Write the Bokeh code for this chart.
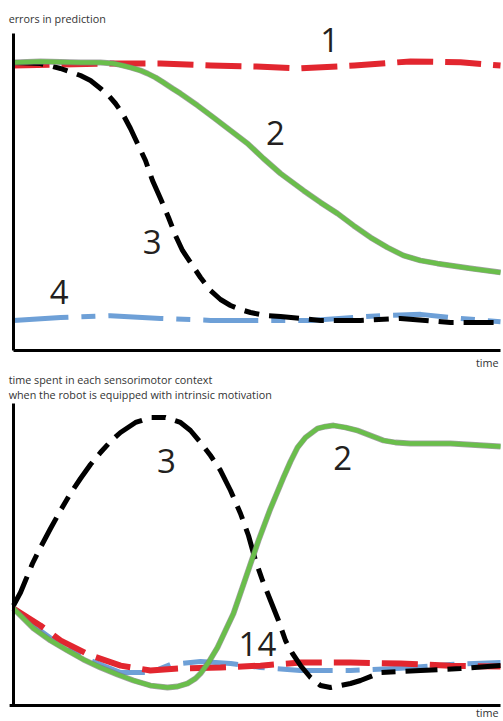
from bokeh.plotting import figure
from bokeh.layouts import column
from bokeh.models import Label
from bokeh.embed import file_html
from bokeh.resources import INLINE

# ---------------- data (time 0..100, value 0..100) ----------------
# top panel: errors in prediction
top_red_t = [0, 10.1, 19.9, 30.2, 40.5, 49.9, 58.9, 70.0, 81.5, 91.8, 100]
top_red_v = [89.9, 90.2, 90.5, 90.5, 89.9, 89.6, 89.0, 89.9, 91.2, 90.9, 89.9]

top_green_t = [0, 5.54, 13.76, 17.86, 20.53, 22.38, 24.02, 26.08, 27.52, 29.16, 30.80, 32.65,
               34.29, 37.78, 41.07, 44.56, 48.05, 51.33, 54.83, 59.55, 63.04, 66.53, 69.82,
               73.31, 76.80, 80.08, 83.57, 87.06, 93.84, 100]
top_green_v = [90.85, 91.17, 90.85, 90.85, 90.54, 89.91, 89.27, 88.33, 87.38, 86.12, 84.54, 82.65,
               81.07, 77.29, 73.50, 69.40, 65.30, 60.57, 55.84, 50.47, 46.69, 43.22, 39.43,
               35.65, 32.49, 29.97, 28.39, 27.44, 25.87, 24.61]

top_black_t = [0, 5.54, 9.65, 13.76, 15.81, 17.86, 19.51, 20.94, 22.38, 24.02, 25.46, 27.10,
               28.54, 30.18, 31.83, 33.26, 34.70, 36.34, 38.40, 40.45, 42.51, 44.56, 46.61,
               48.67, 51.75, 54.83, 63.04, 71.25, 79.47, 89.73, 100]
top_black_v = [90.85, 90.54, 88.96, 86.75, 85.17, 82.65, 80.44, 77.92, 74.76, 70.03, 65.30, 59.94,
               53.63, 47.95, 41.96, 36.28, 31.55, 27.76, 23.03, 18.93, 16.09, 14.20, 12.93,
               11.99, 11.04, 10.73, 9.46, 9.46, 10.09, 8.83, 8.83]

top_blue_t = [0, 9.7, 19.9, 30.2, 40.5, 50.7, 61.0, 75.4, 83.6, 91.8, 100]
top_blue_v = [9.5, 10.4, 11.0, 10.1, 9.5, 9.5, 9.5, 11.0, 11.4, 10.1, 9.1]

# bottom panel: time spent in each sensorimotor context
bot_black_t = [0, 1.44, 2.46, 3.90, 5.54, 7.60, 9.65, 11.70, 13.76, 15.81, 17.86, 19.92, 21.97,
               25.05, 28.13, 31.21, 34.29, 36.34, 38.40, 40.45, 42.51, 44.56, 46.61, 48.25,
               49.69, 51.13, 52.77, 54.41, 55.85, 57.29, 58.93, 60.99, 63.04, 65.09, 67.15,
               69.20, 71.25, 75.36, 83.57, 91.79, 100]
bot_black_v = [33.11, 37.42, 41.39, 47.02, 52.32, 58.61, 64.57, 70.20, 75.17, 79.80, 83.77, 87.42,
               90.40, 93.71, 95.36, 95.36, 93.71, 91.06, 87.09, 82.78, 77.81, 71.19, 63.58,
               56.29, 48.01, 41.39, 34.77, 28.15, 21.52, 17.22, 13.25, 9.27, 6.62, 5.96, 6.62,
               7.28, 8.28, 10.93, 11.59, 12.25, 13.25]

bot_green_t = [0, 4.11, 7.60, 11.09, 14.37, 17.86, 21.36, 24.64, 28.13, 31.62, 33.68, 35.73,
               37.37, 38.40, 40.04, 41.89, 43.53, 45.17, 47.64, 50.31, 52.77, 55.44, 56.88,
               58.32, 59.96, 62.42, 64.07, 65.71, 68.17, 70.64, 73.31, 75.98, 78.44, 81.52,
               89.73, 100]
bot_green_v = [32.12, 25.50, 21.52, 18.21, 15.23, 12.58, 10.26, 8.28, 6.62, 5.96, 6.29, 7.28,
               8.94, 10.60, 14.24, 19.21, 24.83, 30.46, 42.05, 54.64, 65.23, 75.50, 80.79,
               85.43, 88.74, 91.72, 92.38, 92.72, 92.05, 91.06, 89.40, 87.75, 87.09, 86.75,
               86.75, 85.76]

bot_red_t = [0, 5.5, 9.7, 15.8, 22.0, 28.1, 34.3, 42.5, 50.7, 58.9, 69.2, 79.5, 89.7, 100]
bot_red_v = [32.1, 26.5, 21.5, 16.6, 13.2, 11.6, 12.3, 12.6, 13.2, 14.2, 14.2, 13.9, 13.2, 12.9]

bot_blue_t = [0, 5.5, 9.7, 15.8, 22.0, 28.1, 32.2, 38.4, 44.6, 50.7, 58.9, 69.2, 79.5, 89.7, 100]
bot_blue_v = [32.1, 24.8, 19.9, 14.9, 10.9, 10.9, 13.6, 14.6, 13.9, 12.6, 11.6, 11.6, 12.3, 13.6, 14.2]

top_title = ["errors in prediction"]
bot_title = ["time spent in each sensorimotor context",
             "when the robot is equipped with intrinsic motivation"]
x_name = "time"

# ---------------- styling ----------------
RED = "#e2262f"
BLUE = "#6ea0d7"
GREEN = "#6abe4b"
BLACK = "#000000"
FONT = "Open Sans"
W = 503


def make_fig(h, frame_left, frame_right, frame_top, frame_bottom):
    ux = (frame_right - frame_left) / 100.0
    uy = (frame_bottom - frame_top) / 100.0
    p = figure(width=W, height=h, output_backend="svg", toolbar_location=None,
               x_range=(-frame_left / ux, 100 + (W - frame_right) / ux),
               y_range=(-(h - frame_bottom) / uy, 100 + frame_top / uy),
               x_axis_location=None, y_axis_location=None, min_border=0)
    p.outline_line_color = None
    p.xgrid.visible = False
    p.ygrid.visible = False
    p.background_fill_color = "white"
    return p


def series(p, t, v, color, width, dash="solid"):
    p.line(t, v, line_color=color, line_width=width, line_dash=dash, line_join="round")


def green(p, t, v):
    p.line(t, v, line_color="#7a7a7a", line_width=5.8, line_alpha=0.7, line_join="round")
    p.line(t, v, line_color=GREEN, line_width=4.5, line_join="round")


def axes(p, x0):
    p.segment(x0=[0], y0=[0], x1=[0], y1=[100], line_color=BLACK, line_width=3)
    p.segment(x0=[x0], y0=[0], x1=[100], y1=[0], line_color=BLACK, line_width=3)


def label(p, x, y, text, size="33px", align="center", color="#231f20"):
    p.add_layout(Label(x=x, y=y, text=text, text_font=FONT, text_font_size=size,
                       text_align=align, text_baseline="middle", text_color=color))


# ---------------- top panel ----------------
p1 = make_fig(370, 13, 500, 33, 350)
series(p1, top_blue_t, top_blue_v, BLUE, 5, "55 13 14 13")
series(p1, top_red_t, top_red_v, RED, 6, "36 12")
series(p1, top_black_t, top_black_v, BLACK, 5, "30 10 15 10")
green(p1, top_green_t, top_green_v)
axes(p1, 0)
label(p1, -1.0, 104.7, top_title[0], size="10.8px", align="left", color="#333333")
label(p1, 99.6, -3.8, x_name, size="10.8px", align="right", color="#333333")
label(p1, 64.9, 97.8, "1")
label(p1, 53.8, 68.5, "2")
label(p1, 28.5, 34.1, "3")
label(p1, 9.4, 18.3, "4")

# ---------------- bottom panel ----------------
p2 = make_fig(351, 13, 500, 33, 335)
series(p2, bot_blue_t, bot_blue_v, BLUE, 5, "55 13 14 13")
series(p2, bot_red_t, bot_red_v, RED, 6, "36 12")
series(p2, bot_black_t, bot_black_v, BLACK, 5, "32 10 14 10")
green(p2, bot_green_t, bot_green_v)
axes(p2, -0.8)
label(p2, -1.0, 107.9, bot_title[0], size="10.8px", align="left", color="#333333")
label(p2, -1.0, 103.0, bot_title[1], size="10.8px", align="left", color="#333333")
label(p2, 99.6, -2.4, x_name, size="10.8px", align="right", color="#333333")
label(p2, 31.4, 81.1, "3")
label(p2, 67.6, 81.8, "2")
label(p2, 50.1, 20.5, "14")

layout = column(p1, p2, spacing=0)
open("out.html", "w").write(file_html(layout, INLINE))
